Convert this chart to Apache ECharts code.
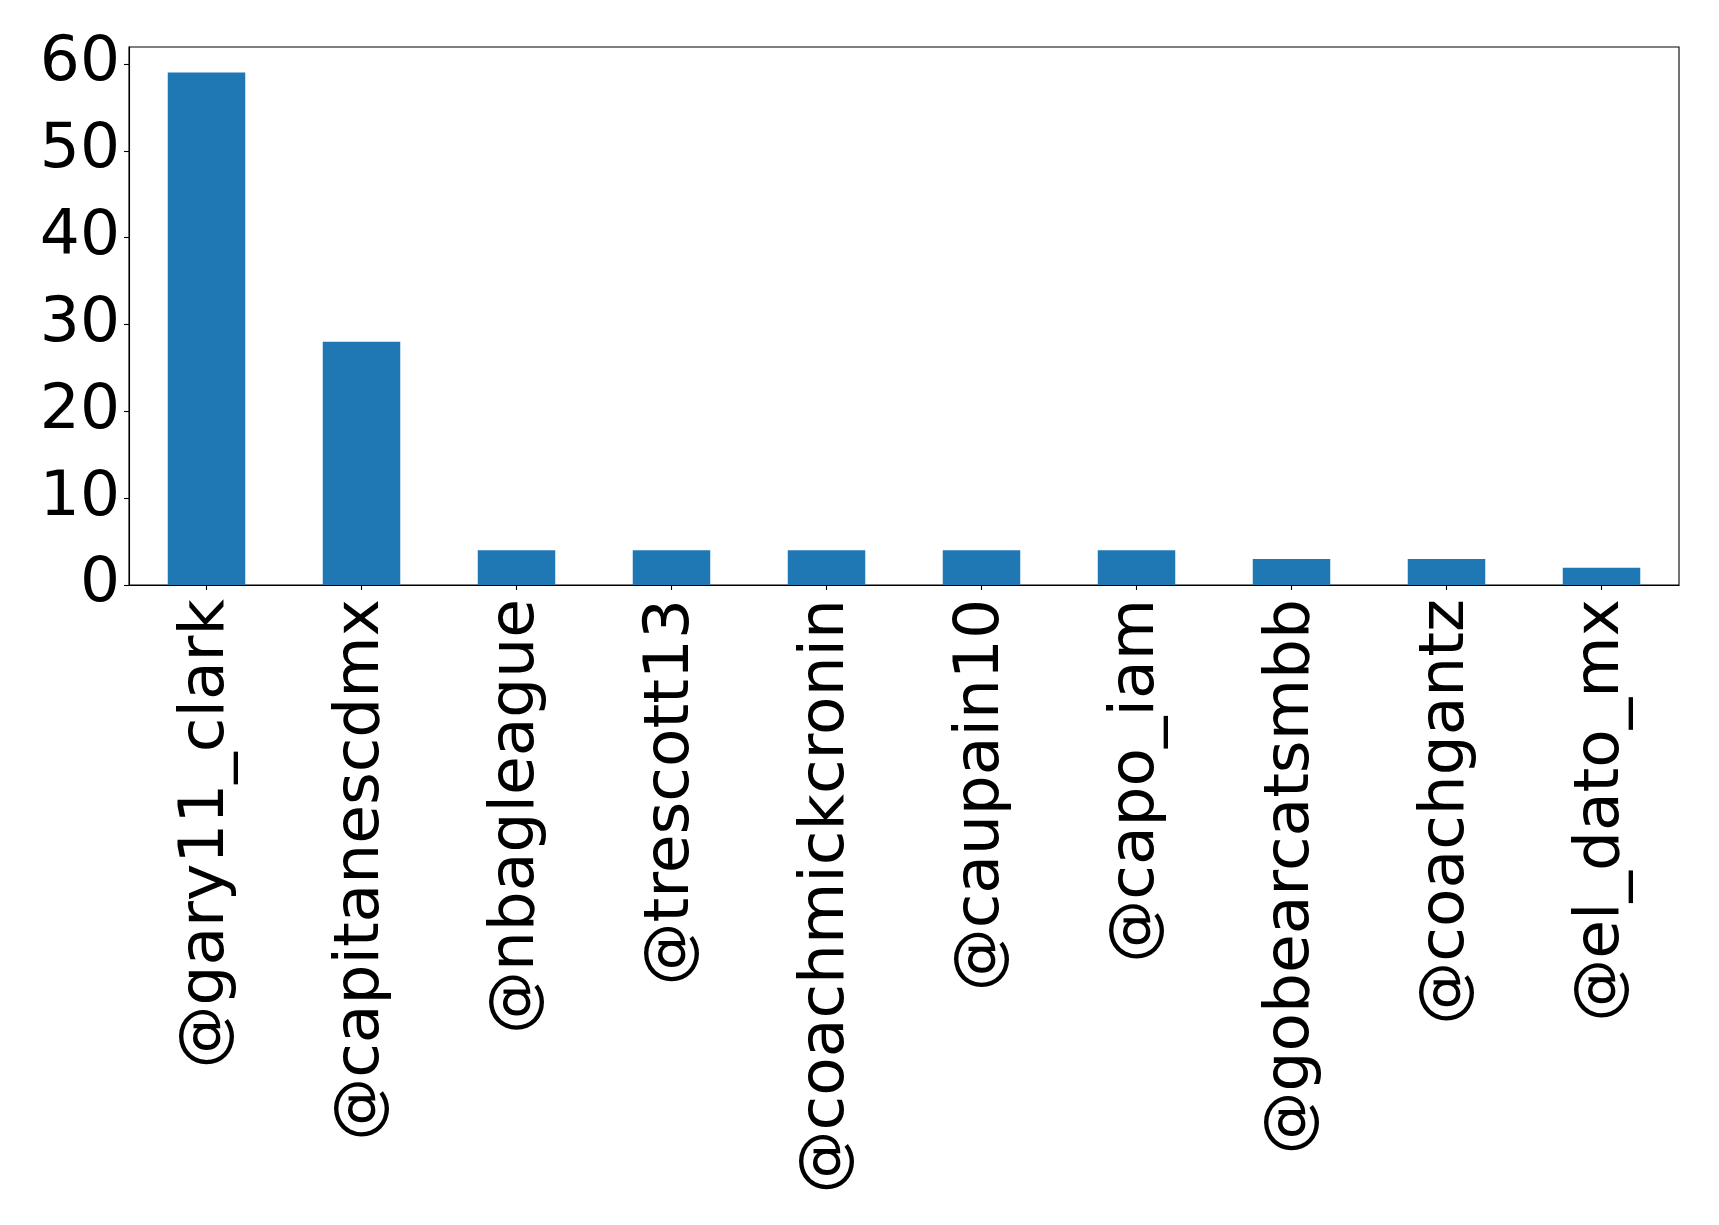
<!DOCTYPE html>
<html>
<head>
<meta charset="utf-8">
<script src="https://cdn.jsdelivr.net/npm/echarts@6/dist/echarts.min.js"></script>
<style>
html,body{margin:0;padding:0;background:#fff;}
#chart{width:1719px;height:1225px;}
</style>
</head>
<body>
<div id="chart"></div>
<script>
const categories = ["@gary11_clark","@capitanescdmx","@nbagleague","@trescott13","@coachmickcronin","@caupain10","@capo_iam","@gobearcatsmbb","@coachgantz","@el_dato_mx"];
const values = [59, 28, 4, 4, 4, 4, 4, 3, 3, 2];
const yTicks = [0, 10, 20, 30, 40, 50, 60];
const yMax = 61.95;

const chart = echarts.init(document.getElementById('chart'), null, {renderer: 'canvas'});
const font = 'DejaVu Sans';
chart.setOption({
  backgroundColor: '#ffffff',
  animation: false,
  grid: {
    left: 129, top: 47, width: 1550, height: 538,
    show: true, borderColor: '#000', borderWidth: 1.1,
    containLabel: false, outerBoundsMode: 'none'
  },
  xAxis: {
    type: 'category',
    data: categories,
    boundaryGap: true,
    axisLine: {show: true, lineStyle: {color: '#000', width: 1.1}},
    axisTick: {show: true, alignWithLabel: true, length: 5, lineStyle: {color: '#000', width: 1.1}},
    axisLabel: {rotate: 90, fontSize: 63, fontFamily: font, color: '#000', margin: 14, interval: 0}
  },
  yAxis: {
    type: 'value',
    min: 0, max: yMax, interval: 10,
    splitLine: {show: false},
    axisLine: {show: true, lineStyle: {color: '#000', width: 1.1}},
    axisTick: {show: true, length: 5, lineStyle: {color: '#000', width: 1.1}, customValues: yTicks},
    axisLabel: {fontSize: 63, fontFamily: font, color: '#000', margin: 9, customValues: yTicks}
  },
  series: [{
    type: 'bar',
    data: values,
    barWidth: '50%',
    itemStyle: {color: '#1f77b4'}
  }]
});
</script>
</body>
</html>
